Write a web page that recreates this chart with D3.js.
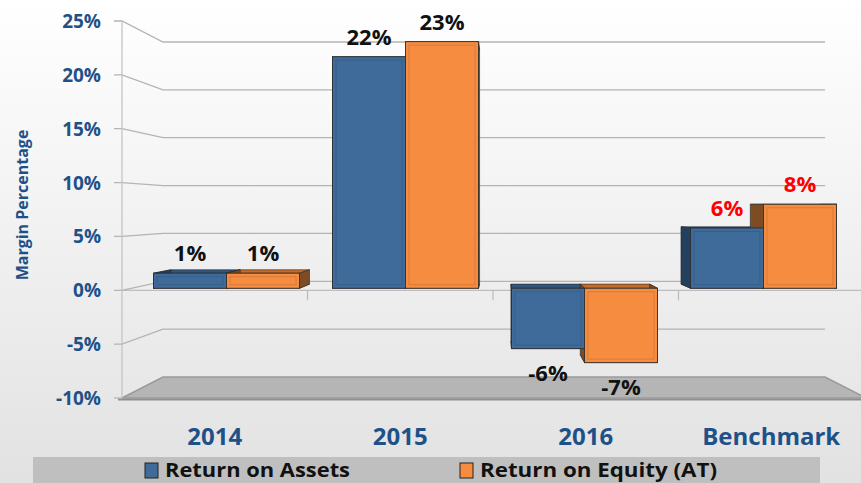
<!DOCTYPE html>
<html>
<head>
<meta charset="utf-8">
<script src="https://d3js.org/d3.v7.min.js"></script>
<style>
  body { margin: 0; padding: 0; overflow: hidden; }
  text { font-family: "Open Sans", "Lato", sans-serif; font-weight: bold; }
</style>
</head>
<body>
<div id="chart"></div>
<script>
// chart data
var categories = ["2014", "2015", "2016", "Benchmark"];
var seriesNames = ["Return on Assets", "Return on Equity (AT)"];
var roa = [1.4, 21.5, -5.6, 5.6];
var roe = [1.4, 22.9, -6.9, 7.8];
var yTicks = [-10, -5, 0, 5, 10, 15, 20, 25];

var svgWidth = 861;
var svgHeight = 483;

var svg = d3.select("#chart")
  .append("svg")
  .attr("width", svgWidth)
  .attr("height", svgHeight);

var defs = svg.append("defs");
var bg = defs.append("linearGradient")
  .attr("id", "bg")
  .attr("x1", 0).attr("y1", 0).attr("x2", 0).attr("y2", 1);
bg.append("stop").attr("offset", "0%").attr("stop-color", "#ffffff");
bg.append("stop").attr("offset", "100%").attr("stop-color", "#e2e2e2");

svg.append("rect")
  .attr("width", svgWidth)
  .attr("height", svgHeight)
  .attr("fill", "url(#bg)");

// front plane, back wall and bar plane scales
var yFront = d3.scaleLinear().domain([-10, 25]).range([398, 21]);
var yBack = d3.scaleLinear().domain([-10, 25]).range([377, 42]);
var yBar = d3.scaleLinear().domain([-10, 25]).range([396, 19]);

var xFront = d3.scaleBand().domain(categories).range([122, 864]);
var xBar = d3.scaleBand().domain(categories).range([137, 853]);
var xSub = d3.scaleBand().domain(seriesNames).range([16.5, 162.5]);

var backLeft = 163, backRight = 825;
var colors = { front: ["#3f6b9a", "#f68c40"], side: ["#24405f", "#7d4b24"], top: ["#31577f", "#c96b27"] };

// percent label with a plain hyphen
function pct(v) {
  var r = Math.round(v);
  return (r < 0 ? "-" + Math.abs(r) : r) + "%";
}

// floor
svg.append("path")
  .attr("d", d3.line()([[122, yFront(-10)], [backLeft, yBack(-10)], [backRight, yBack(-10)], [866, yFront(-10)]]) + "Z")
  .attr("fill", "#b5b5b5")
  .attr("stroke", "#9a9a9a")
  .attr("stroke-width", 1.5);
svg.append("line")
  .attr("x1", 118).attr("x2", 861)
  .attr("y1", yFront(-10) + 1.5).attr("y2", yFront(-10) + 1.5)
  .attr("stroke", "#8f8f8f").attr("stroke-width", 2);

// gridlines (tick, diagonal to back wall, back line)
svg.append("g").selectAll("path")
  .data(yTicks.filter(d => d > -10))
  .enter()
  .append("path")
  .attr("d", d => d3.line()([[114, yFront(d)], [122, yFront(d)], [backLeft, yBack(d)], [backRight, yBack(d)]]))
  .attr("fill", "none")
  .attr("stroke", "#b4b4b4")
  .attr("stroke-width", 1.3);

svg.append("line")
  .attr("x1", 114).attr("x2", 122)
  .attr("y1", yFront(-10)).attr("y2", yFront(-10))
  .attr("stroke", "#b4b4b4").attr("stroke-width", 1.3);

svg.append("line")
  .attr("x1", 122).attr("x2", 122)
  .attr("y1", yFront(25)).attr("y2", yFront(-10))
  .attr("stroke", "#c4c4c4").attr("stroke-width", 1.3);

// category axis at zero
svg.append("line")
  .attr("x1", 122).attr("x2", 864)
  .attr("y1", yFront(0)).attr("y2", yFront(0))
  .attr("stroke", "#bdbdbd").attr("stroke-width", 1.3);
svg.append("g").selectAll("line")
  .data(categories)
  .enter()
  .append("line")
  .attr("x1", d => xFront(d) + xFront.bandwidth())
  .attr("x2", d => xFront(d) + xFront.bandwidth())
  .attr("y1", yFront(0)).attr("y2", yFront(0) + 10)
  .attr("stroke", "#bdbdbd").attr("stroke-width", 1.3);

// y tick labels
svg.append("g").selectAll("text")
  .data(yTicks)
  .enter()
  .append("text")
  .attr("x", 101)
  .attr("y", d => yFront(d) + 7)
  .attr("text-anchor", "end")
  .attr("fill", "#1f5189")
  .style("font-size", "19px")
  .text(d => pct(d));

svg.append("text")
  .attr("transform", "translate(28, 205) rotate(-90)")
  .attr("text-anchor", "middle")
  .attr("fill", "#1f5189")
  .style("font-size", "16px")
  .text("Margin Percentage");

// category labels
svg.append("g").selectAll("text")
  .data(categories)
  .enter()
  .append("text")
  .attr("x", d => xFront(d) + xFront.bandwidth() / 2)
  .attr("y", 445)
  .attr("text-anchor", "middle")
  .attr("fill", "#1f5189")
  .style("font-size", "24px")
  .text(d => d);

// bars with simple 3D depth towards a vanishing point
var VX = 500, VY = 205, depth = 0.05;
function proj(p) {
  return [p[0] + (VX - p[0]) * depth, p[1] + (VY - p[1]) * depth];
}

var bars = [];
categories.forEach(function(c, i) {
  [roa[i], roe[i]].forEach(function(v, s) {
    var x0 = xBar(c) + xSub(seriesNames[s]);
    var x1 = x0 + xSub.bandwidth();
    var yt = yBar(Math.max(0, v));
    var yb = yBar(Math.min(0, v));
    bars.push({ cat: c, s: s, value: v, x0: x0, x1: x1, yt: yt, yb: yb });
  });
});

var faces = [];
bars.forEach(function(b) {
  var TL = [b.x0, b.yt], TR = [b.x1, b.yt], BR = [b.x1, b.yb], BL = [b.x0, b.yb];
  var tl = proj(TL), tr = proj(TR), br = proj(BR), bl = proj(BL);
  faces.push({ pts: [TL, TR, tr, tl], fill: colors.top[b.s] });
  faces.push({ pts: [BL, BR, br, bl], fill: colors.top[b.s] });
  faces.push({ pts: [TL, BL, bl, tl], fill: colors.side[b.s] });
  faces.push({ pts: [TR, BR, br, tr], fill: colors.side[b.s] });
});

svg.append("g").selectAll("path")
  .data(faces)
  .enter()
  .append("path")
  .attr("d", d => d3.line()(d.pts) + "Z")
  .attr("fill", d => d.fill)
  .attr("stroke", "#2a2a2a")
  .attr("stroke-width", 0.8)
  .attr("stroke-opacity", 0.8);

var fronts = svg.append("g").selectAll("g")
  .data(bars)
  .enter()
  .append("g");

fronts.append("rect")
  .attr("x", d => d.x0)
  .attr("y", d => d.yt)
  .attr("width", d => d.x1 - d.x0)
  .attr("height", d => d.yb - d.yt)
  .attr("fill", d => colors.front[d.s])
  .attr("stroke", "#2a2a2a")
  .attr("stroke-width", 1)
  .attr("stroke-opacity", 0.85);

fronts.filter(d => d.yb - d.yt > 10)
  .append("rect")
  .attr("x", d => d.x0 + 3.5)
  .attr("y", d => d.yt + 3.5)
  .attr("width", d => d.x1 - d.x0 - 7)
  .attr("height", d => d.yb - d.yt - 7)
  .attr("fill", "none")
  .attr("stroke", "#000")
  .attr("stroke-opacity", 0.12)
  .attr("stroke-width", 1);

// data labels
svg.append("g").selectAll("text")
  .data(bars)
  .enter()
  .append("text")
  .attr("x", d => (d.x0 + d.x1) / 2)
  .attr("y", d => d.value >= 0 ? d.yt - 12 : d.yb + 32)
  .attr("text-anchor", "middle")
  .attr("fill", d => d.cat === "Benchmark" ? "#ff0000" : "#111111")
  .style("font-size", "22px")
  .text(d => pct(d.value));

// legend
var legend = svg.append("g");
legend.append("rect")
  .attr("x", 33).attr("y", 457)
  .attr("width", 787).attr("height", 30)
  .attr("fill", "#bfbfbf");

var legendX = [145, 460];
var legendW = [185, 237];
var items = legend.selectAll("g")
  .data(seriesNames)
  .enter()
  .append("g")
  .attr("transform", (d, i) => `translate(${legendX[i]}, 0)`);

items.append("rect")
  .attr("x", 0).attr("y", 463)
  .attr("width", 13).attr("height", 15)
  .attr("fill", (d, i) => colors.front[i])
  .attr("stroke", "#222")
  .attr("stroke-width", 1);

items.append("text")
  .attr("x", 20)
  .attr("y", 477)
  .attr("fill", "#111")
  .attr("textLength", (d, i) => legendW[i])
  .attr("lengthAdjust", "spacingAndGlyphs")
  .style("font-size", "19px")
  .text(d => d);
</script>
</body>
</html>
